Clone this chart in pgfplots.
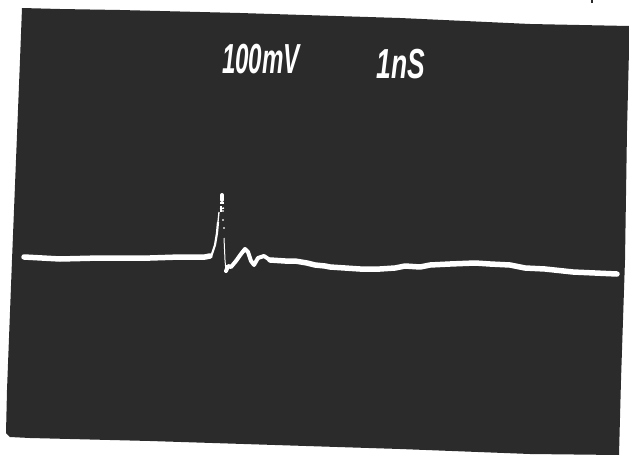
\documentclass[border=0pt]{standalone}
\usepackage{pgfplots}
\usepackage{fontspec}
\setmainfont{Liberation Sans}
\pgfplotsset{compat=1.18}
\definecolor{screen}{HTML}{2B2B2B}
\begin{document}
\begin{tikzpicture}
\begin{axis}[
  width=629pt, height=455pt, scale only axis,
  xmin=0, xmax=629, ymin=0, ymax=455,
  y dir=reverse, hide axis, clip=true,
]
% page background
\addplot[fill=white, draw=none] coordinates {(0,0) (629,0) (629,455) (0,455)} --cycle;
% dark screen
\addplot[fill=screen, draw=none] coordinates {
  (22,8) (60,9) (120,10) (240,13) (400,18) (530,24) (629,26)
  (629,50) (627,130) (625,260) (621,380) (619,455)
  (530,454) (400,449) (150,441) (30,438) (10,437) (6,433)
  (7,390) (12,260) (20,60)
} --cycle;
% trace, flat parts
\addplot[white, line width=5.5pt, line join=round, line cap=round] coordinates {
  (24,257) (60,259) (100,258) (150,258) (180,257) (205,257) (210,256)
};
\addplot[white, line width=4pt, line join=round, line cap=round] coordinates {
  (226,271) (228,266) (231,267) (236,261) (241,254) (245,249) (248,252)
  (251,261) (254,265) (258,258) (264,256) (270,260)
};
\addplot[white, line width=5.5pt, line join=round, line cap=round] coordinates {
  (270,260) (285,261) (295,261) (307,263) (315,265) (325,266) (330,267)
  (345,268) (360,269) (380,269) (395,268) (405,266) (420,267) (430,265)
  (450,264) (475,263) (490,264) (510,265) (525,268) (545,269) (573,272)
  (595,273) (617,274)
};
% rising edge and fall
\addplot[white, line width=2.2pt, line join=round] coordinates {
  (209,257) (212,254) (215,245) (217,233) (218,222)
};
\addplot[white, line width=1.3pt] coordinates {
  (218,222) (219,212)
};
\addplot[white, line width=1pt] coordinates {(224,238) (225,260) (226,272)};
% dots near the top of the spike
\addplot[white, line width=4pt, line cap=round] coordinates {(222,195) (222,200)};
\addplot[white, line width=1.6pt] coordinates {(220,203) (224,203)};
\addplot[white, line width=1.8pt] coordinates {(221,206) (221,212)};
\addplot[white, line width=1.4pt] coordinates {(220,209) (224,208)};
\addplot[white, only marks, mark=*, mark size=0.6pt] coordinates {
  (223,211) (223,220) (224,228)
};
% speck on the top edge
\addplot[screen, line width=2pt] coordinates {(592,0) (592,3)};
\node[white, font=\bfseries\itshape\fontsize{42}{42}\selectfont, anchor=center, xscale=0.575]
  at (axis cs:261,59) {100mV};
\node[white, font=\bfseries\itshape\fontsize{42}{42}\selectfont, anchor=center, xscale=0.63]
  at (axis cs:401,64) {1nS};
\end{axis}
\end{tikzpicture}
\end{document}
